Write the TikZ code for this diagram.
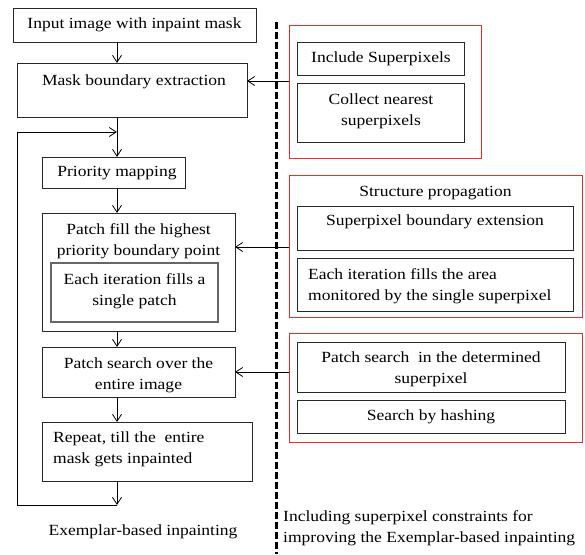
\documentclass[tikz,border=0pt]{standalone}
\usepackage{fontspec}
\setmainfont{Liberation Serif}[FakeStretch=1.13]
\usetikzlibrary{arrows.meta}
\definecolor{redb}{RGB}{235,45,45}
\definecolor{boxc}{RGB}{40,40,40}
\tikzset{
  box/.style={draw=boxc,line width=0.8pt,anchor=north west,inner sep=0pt,outer sep=0pt},
  ibox/.style={draw=black!60,line width=1.2pt,anchor=north west,inner sep=0pt,outer sep=0pt},
  rbox/.style={draw=redb,line width=0.8pt,anchor=north west,inner sep=0pt,outer sep=0pt},
  txt/.style={inner sep=0pt,align=center,font=\fontsize{15.5}{21}\selectfont},
  ltxt/.style={inner sep=0pt,align=left,anchor=west,font=\fontsize{15.5}{21}\selectfont},
  arr/.style={draw=black,line width=0.8pt,-{Straight Barb[length=7pt,width=9pt,line width=0.8pt]}},
  sep/.style={draw=black,line width=3pt,dash pattern=on 7pt off 3pt}
}
\begin{document}
\begin{tikzpicture}[x=1pt,y=-1pt]
\useasboundingbox (0,0) rectangle (585,554);
% left column boxes
\node[box,minimum width=243pt,minimum height=34pt] (in) at (13,8) {};
\node[box,minimum width=230pt,minimum height=54pt] (mask) at (17,63) {};
\node[box,minimum width=143pt,minimum height=31pt] (prio) at (42,157) {};
\node[box,minimum width=193pt,minimum height=118pt] (fill) at (42,213) {};
\node[ibox,minimum width=167pt,minimum height=59pt] (each) at (51,263) {};
\node[box,minimum width=193pt,minimum height=50pt] (search) at (42,347) {};
\node[box,minimum width=210pt,minimum height=59pt] (rep) at (42,422) {};
% left texts
\node[txt] (tin) at (134.5,25) {Input image with inpaint mask};
\node[txt] (tmask) at (134,82) {Mask boundary extraction};
\node[txt] (tprio) at (117,173) {Priority mapping};
\node[txt] (tfill) at (138.5,241) {Patch fill the highest\\priority boundary point};
\node[txt] (teach) at (134.5,291.5) {Each iteration fills a\\single patch};
\node[txt] (tsearch) at (138.5,375) {Patch search over the\\entire image};
\node[ltxt] (trep) at (53,449.5) {Repeat, till the\ \ entire\\mask gets inpainted};
\node[txt] (texe) at (143,532) {Exemplar-based inpainting};
% right boxes
\node[rbox,minimum width=192pt,minimum height=133pt] (red1) at (289,25) {};
\node[box,minimum width=167pt,minimum height=33pt] (inc) at (297,42) {};
\node[box,minimum width=167pt,minimum height=59pt] (col) at (297,83) {};
\node[rbox,minimum width=293pt,minimum height=142pt] (red2) at (289,175) {};
\node[box,minimum width=276pt,minimum height=44pt] (sbe) at (297,206) {};
\node[box,minimum width=276pt,minimum height=53pt] (eif) at (297,258) {};
\node[rbox,minimum width=293pt,minimum height=109pt] (red3) at (289,333) {};
\node[box,minimum width=268pt,minimum height=50pt] (psd) at (297,342) {};
\node[box,minimum width=268pt,minimum height=33pt] (sbh) at (297,400) {};
% right texts
\node[txt] (tinc) at (381,58.5) {Include Superpixels};
\node[txt] (tcol) at (381,111) {Collect nearest\\superpixels};
\node[txt] (tstr) at (435.5,193) {Structure propagation};
\node[txt] (tsbe) at (435,222) {Superpixel boundary extension};
\node[ltxt] (teif) at (308,286) {Each iteration fills the area\\monitored by the single superpixel};
\node[txt] (tpsd) at (431,369.5) {Patch search\ \ in the determined\\superpixel};
\node[txt] (tsbh) at (431,417) {Search by hashing};
\node[ltxt] (tinc2) at (283,528) {Including superpixel constraints for\\improving the Exemplar-based inpainting};
% coordinates
\coordinate (ax) at (117,0);
\coordinate (loopt) at (117,132);
\coordinate (loopb) at (117,505);
\coordinate (lbl) at (17,505);
\coordinate (ltl) at (17,132);
\coordinate (c1) at (0,81);
\coordinate (c2) at (0,247);
\coordinate (c3) at (0,372);
\coordinate (dtop) at (276.5,22);
\coordinate (dbot) at (276.5,554);
% separator
\draw[sep] (dtop) -- (dbot);
% vertical flow
\draw[arr] (ax |- in.south) -- (ax |- mask.north);
\draw[arr] (ax |- mask.south) -- (ax |- prio.north);
\draw[arr] (ax |- prio.south) -- (ax |- fill.north);
\draw[arr] (ax |- fill.south) -- (ax |- search.north);
\draw[arr] (ax |- search.south) -- (ax |- rep.north);
\draw[arr] (ax |- rep.south) -- (loopb);
\draw[arr] (loopb) -- (lbl) -- (ltl) -- (loopt);
% horizontal connectors
\draw[arr] (red1.west |- c1) -- (mask.east |- c1);
\draw[arr] (red2.west |- c2) -- (fill.east |- c2);
\draw[arr] (red3.west |- c3) -- (search.east |- c3);
\end{tikzpicture}
\end{document}
